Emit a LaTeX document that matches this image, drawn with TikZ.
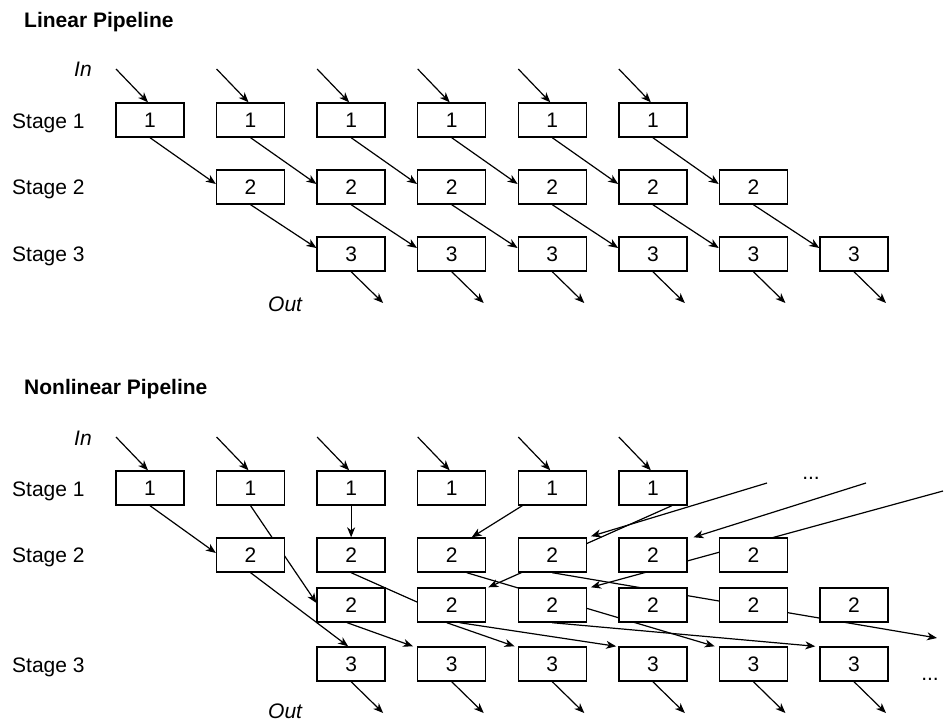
\documentclass[tikz,border=0pt]{standalone}
\usepackage{fontspec}
\setmainfont{Liberation Sans}
\usetikzlibrary{arrows.meta,backgrounds}
\tikzset{
  stbox/.style={draw, line width=1.4pt, fill=white, minimum width=68pt, minimum height=34pt,
    inner sep=0pt, font=\fontsize{21}{25}\selectfont},
  conn/.style={line width=1.2pt, -{Stealth[length=10pt,width=8pt,inset=3pt]}},
  plainln/.style={line width=1.2pt},
  lbl/.style={anchor=base west, inner sep=0pt, font=\fontsize{21}{25}\selectfont},
  ttl/.style={anchor=base west, inner sep=0pt, font=\fontsize{21}{25}\selectfont\bfseries},
  itl/.style={anchor=base west, inner sep=0pt, font=\fontsize{21}{25}\selectfont\itshape},
  dotsl/.style={anchor=base, inner sep=0pt, font=\fontsize{21}{25}\selectfont},
}
\begin{document}
\begin{tikzpicture}[x=1pt,y=-1pt]
\useasboundingbox (0,0) rectangle (946,721);

% ---------------- Linear pipeline ----------------
\node[ttl] (t1) at (24,27) {Linear Pipeline};
\node[itl] (in1) at (74,76) {In};
\node[lbl] (ls1) at (12,128) {Stage 1};
\node[lbl] (ls2) at (12,194) {Stage 2};
\node[lbl] (ls3) at (12,261) {Stage 3};
\node[itl] (out1) at (268,311.5) {Out};

\foreach \i in {1,...,6} \node[stbox] (L1-\i) at ({150+100.57*(\i-1)},120) {1};
\foreach \i in {2,...,7} \node[stbox] (L2-\i) at ({150+100.57*(\i-1)},187) {2};
\foreach \i in {3,...,8} \node[stbox] (L3-\i) at ({150+100.57*(\i-1)},254) {3};

\begin{scope}[on background layer]
\foreach \i in {1,...,6} {
  \coordinate (Lin\i) at ({116+100.57*(\i-1)},69);
  \draw[conn] (Lin\i) -- ([xshift=-2pt]L1-\i.north);
}
\foreach \i [evaluate=\i as \j using int(\i+1)] in {1,...,6}
  \draw[conn] (L1-\i.south) -- ([yshift=3pt]L2-\j.west);
\foreach \i [evaluate=\i as \j using int(\i+1)] in {2,...,7}
  \draw[conn] (L2-\i.south) -- ([yshift=6pt]L3-\j.west);
\foreach \i in {3,...,8} {
  \coordinate (Lout\i) at ({182+100.57*(\i-1)},303);
  \draw[conn] (L3-\i.south) -- (Lout\i);
}
\end{scope}

% ---------------- Nonlinear pipeline ----------------
\node[ttl] (t2) at (24,394) {Nonlinear Pipeline};
\node[itl] (in2) at (74,445) {In};
\node[lbl] (ns1) at (12,496) {Stage 1};
\node[lbl] (ns2) at (12,562) {Stage 2};
\node[lbl] (ns3) at (12,672) {Stage 3};
\node[itl] (out2) at (268,718) {Out};
\node[dotsl] (d1) at (811,479) {...};
\node[dotsl] (d2) at (930,680) {...};

\foreach \i in {1,...,6} \node[stbox] (N1-\i) at ({150+100.57*(\i-1)},488) {1};
\foreach \i in {2,...,7} \node[stbox] (N2-\i) at ({150+100.57*(\i-1)},555) {2};
\foreach \i in {3,...,8} \node[stbox] (M-\i) at ({150+100.57*(\i-1)},605) {2};
\foreach \i in {3,...,8} \node[stbox] (N3-\i) at ({150+100.57*(\i-1)},664) {3};

\coordinate (f1) at (767,483);
\coordinate (f2) at (866,483);
\coordinate (f3) at (943,491);
\coordinate (f4) at (937,638);

\begin{scope}[on background layer]
\foreach \i in {1,...,6} {
  \coordinate (Nin\i) at ({116+100.57*(\i-1)},437);
  \draw[conn] (Nin\i) -- ([xshift=-2pt]N1-\i.north);
}
\foreach \i in {3,...,8} {
  \coordinate (Nout\i) at ({182+100.57*(\i-1)},713);
  \draw[conn] (N3-\i.south) -- (Nout\i);
}
\draw[conn] (N1-1.south) -- ([yshift=2pt]N2-2.west);
\draw[conn] (N1-2.south) -- ([yshift=2pt]M-3.west);
\draw[conn] (N1-3.south) -- (N2-3.north);
\draw[conn] ([xshift=-30pt]N1-5.south) -- ([xshift=20pt]N2-4.north);
\draw[conn] ([xshift=19pt]N1-6.south) -- ([xshift=2pt]M-4.north east);
\draw[conn] (f1) -- ([xshift=4pt,yshift=1pt]N2-5.north east);
\draw[conn] (f2) -- ([xshift=6pt]N2-6.north east);
\draw[conn] (f3) -- ([xshift=4pt]M-5.north east);
\draw[conn] (N2-2.south) -- ([xshift=-3pt]N3-3.north);
\draw[plainln] (N2-3.south) -- ([yshift=3pt]M-4.west);
\draw[conn] ([xshift=-5pt]M-4.south) -- ([xshift=-3pt]N3-5.north west);
\draw[conn] ([xshift=8pt]M-4.south) -- ([xshift=-2pt]N3-6.north west);
\draw[conn] ([xshift=15pt]N2-4.south) -- ([xshift=-4pt]N3-7.north west);
\draw[conn] (N2-5.south) -- (f4);
\draw[conn] ([xshift=-4pt]M-3.south) -- ([xshift=-4pt]N3-4.north west);
\draw[conn] (M-5.south) -- ([xshift=-4pt]N3-8.north west);
\end{scope}
\end{tikzpicture}
\end{document}
